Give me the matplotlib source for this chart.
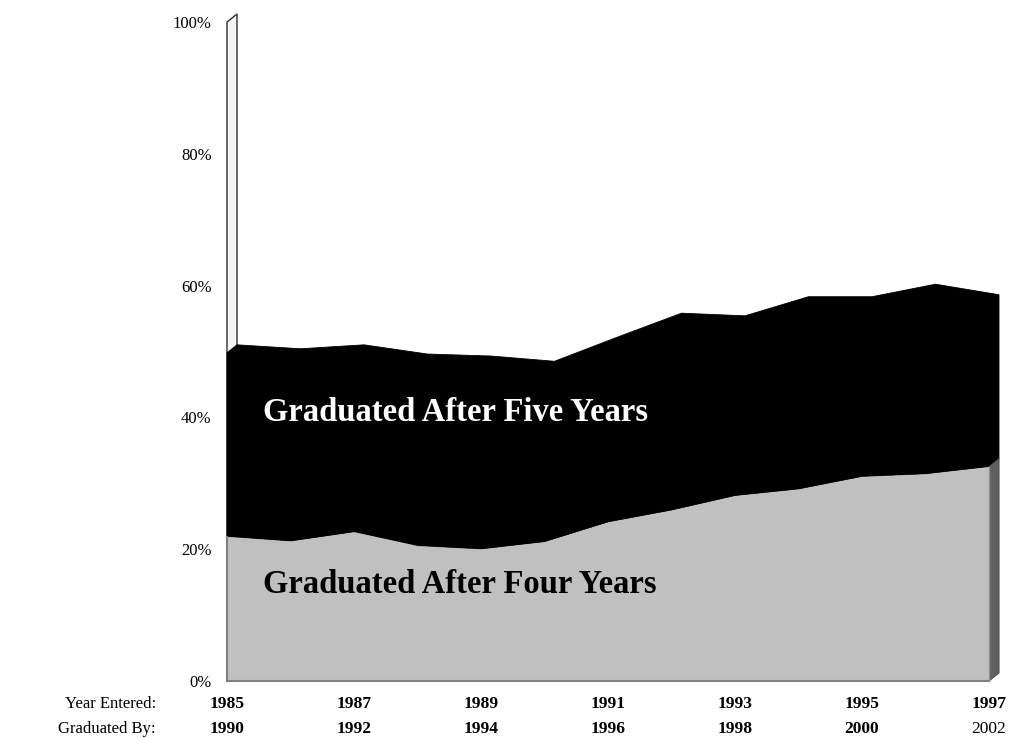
import matplotlib.pyplot as plt
import numpy as np

plt.rcParams['font.family'] = ['Liberation Serif', 'DejaVu Serif']

# data
years_entered = [1985, 1986, 1987, 1988, 1989, 1990, 1991, 1992, 1993, 1994, 1995, 1996, 1997]
four_years = [21.9, 21.2, 22.6, 20.5, 20.0, 21.1, 24.1, 25.9, 28.1, 29.1, 31.0, 31.4, 32.5]
total_five = [49.8, 49.2, 49.8, 48.4, 48.1, 47.3, 51.0, 54.6, 54.2, 57.1, 57.1, 59.0, 57.4]
label_entered = ['1985', '1987', '1989', '1991', '1993', '1995', '1997']
label_grad = ['1990', '1992', '1994', '1996', '1998', '2000', '2002']
y_ticks = [0, 20, 40, 60, 80, 100]

x = np.array(years_entered, dtype=float)
four = np.array(four_years)
total = np.array(total_five)

W, H = 1014, 738
fig = plt.figure(figsize=(W / 100, H / 100), dpi=100)
ax = fig.add_axes([227 / W, (H - 681) / H, (989 - 227) / W, (681 - 22) / H])
ax.set_xlim(1985, 1997)
ax.set_ylim(0, 100)

# 3d depth offset (10px right, 8px up)
dx = 10 / 63.5
dy = 8 / 6.59

# side wall
x0 = x[0]
ax.fill([x0, x0, x0 + dx, x0 + dx], [0, 100, 100 + dy, dy], facecolor='#f4f4f4',
        edgecolor='#303030', lw=1, clip_on=False, zorder=1)

# black layer: silhouette of front face + top face + right side
xe = x[-1]
bx = np.concatenate([x, [xe + dx], (x + dx)[::-1], [x0]])
by = np.concatenate([four, [four[-1] + dy], (total + dy)[::-1], [total[0]]])
ax.fill(bx, by, facecolor='black', edgecolor='black', lw=0.6, clip_on=False, zorder=2)

# gray layer: right side + front face
ax.fill([xe, xe + dx, xe + dx, xe], [0, dy, four[-1] + dy, four[-1]],
        facecolor='#606060', edgecolor='#505050', lw=0.8, clip_on=False, zorder=3)
ax.fill_between(x, 0, four, facecolor='#c0c0c0', edgecolor='#c0c0c0', lw=0.4,
                zorder=4, clip_on=False)
ax.plot([x[0], x[0]], [0, four[0]], color='#808080', lw=1.5, zorder=5, clip_on=False)
ax.plot([x[0], x[-1]], [0, 0], color='#808080', lw=1.5, zorder=5, clip_on=False)
ax.plot([x[-1], x[-1]], [0, four[-1]], color='#909090', lw=1, zorder=5, clip_on=False)

# series labels
ax.text(1985.57, 40.7, 'Graduated After Five Years', color='white', fontsize=23.5,
        fontweight='bold', va='center', ha='left', zorder=6)
ax.text(1985.57, 14.6, 'Graduated After Four Years', color='black', fontsize=23.5,
        fontweight='bold', va='center', ha='left', zorder=6)

# axes
for s in ax.spines.values():
    s.set_visible(False)
ax.set_xticks([])
ax.set_yticks(y_ticks)
ax.set_yticklabels([f'{v}%' for v in y_ticks], fontsize=12)
ax.tick_params(axis='y', length=0, pad=11)

for e, g in zip(label_entered, label_grad):
    xv = float(e)
    ax.text(xv, -3.5, e, ha='center', va='center', fontsize=12.5, fontweight='bold', clip_on=False)
    ax.text(xv, -7.3, g, ha='center', va='center', fontsize=12.5,
            fontweight='normal' if g == '2002' else 'bold', clip_on=False)
ax.text(1983.88, -3.5, 'Year Entered:', ha='right', va='center', fontsize=12, clip_on=False)
ax.text(1983.88, -7.3, 'Graduated By:', ha='right', va='center', fontsize=12, clip_on=False)

fig.savefig('out.png', dpi=100)
